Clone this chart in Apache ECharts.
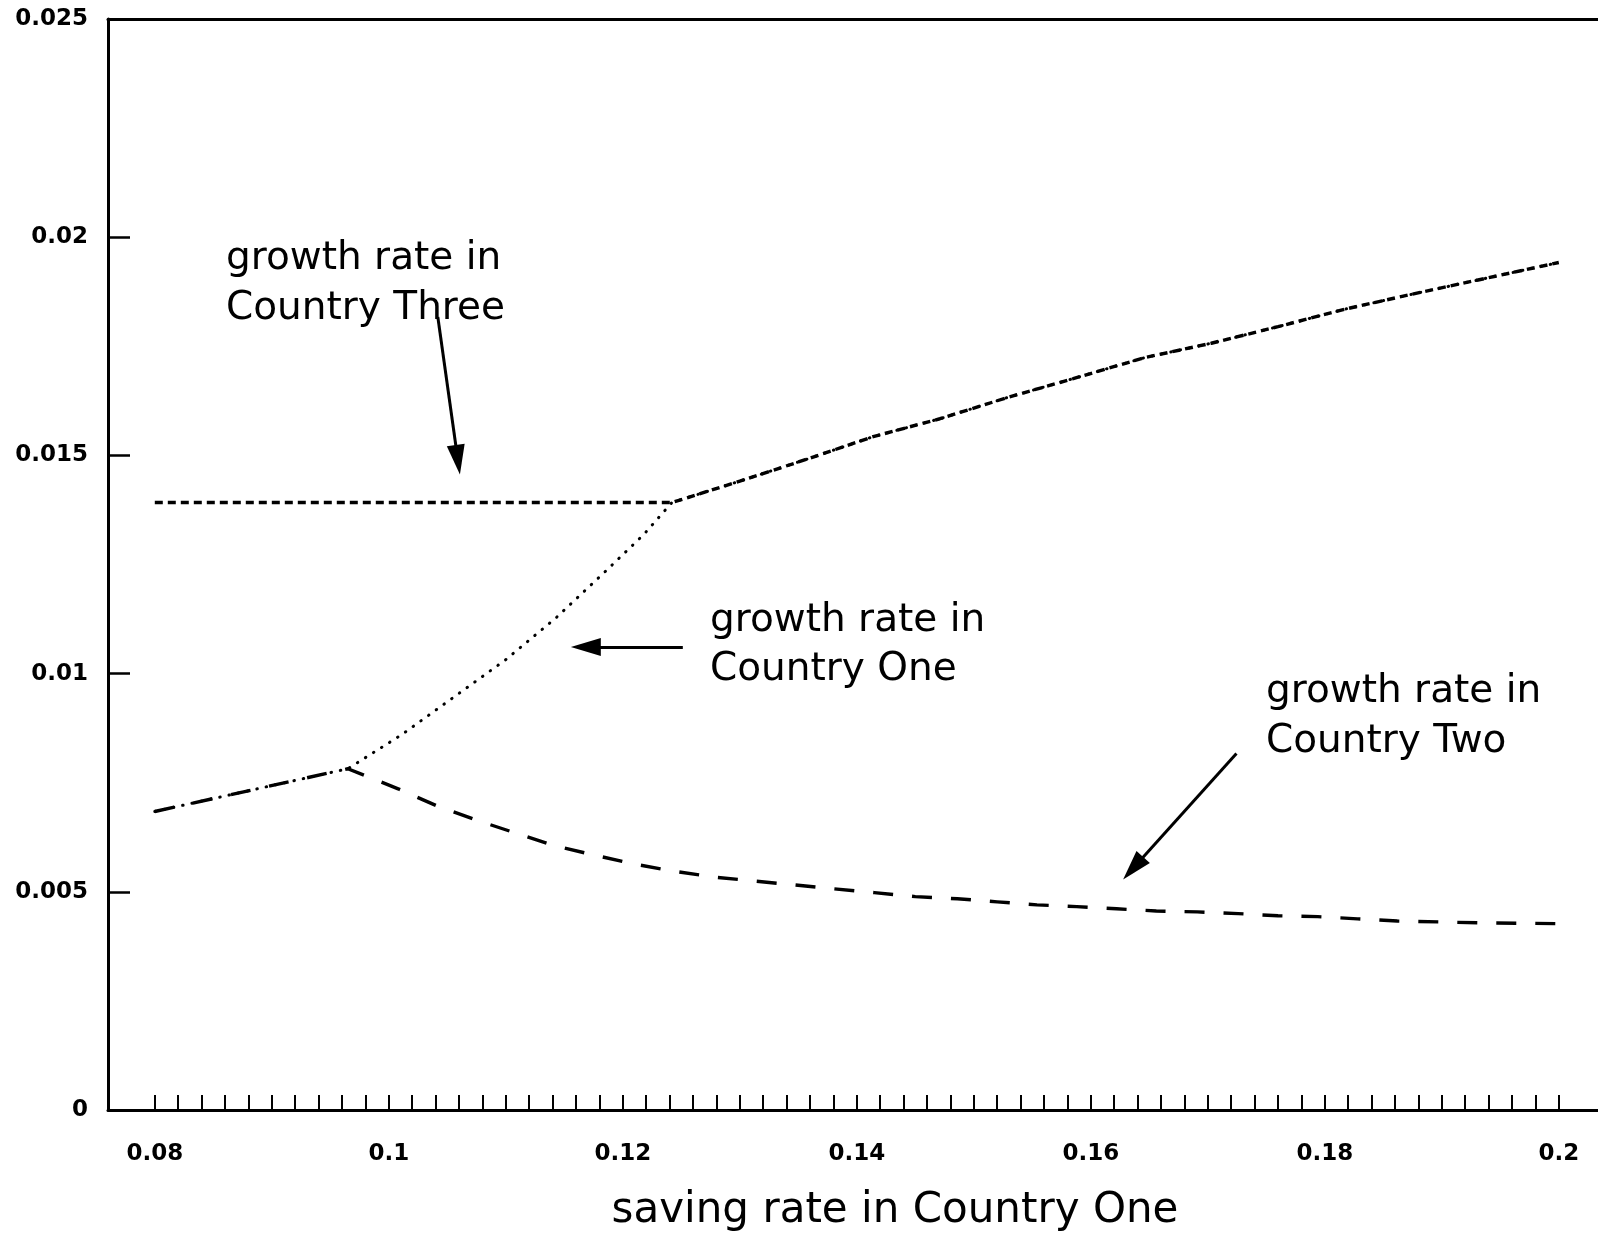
<!DOCTYPE html>
<html>
<head>
<meta charset="utf-8">
<script src="https://cdn.jsdelivr.net/npm/echarts@6/dist/echarts.min.js"></script>
<style>
  html, body { margin: 0; padding: 0; background: #fff; }
  #chart { width: 1598px; height: 1234px; }
</style>
</head>
<body>
<div id="chart"></div>
<script>
// ---- data ----
const savingOne = [0.08, 0.0965, 0.1011, 0.1056, 0.1100, 0.1143, 0.1185, 0.1218, 0.1242, 0.1300, 0.1357, 0.1414, 0.1471, 0.1528, 0.1585, 0.1646, 0.1703, 0.1760, 0.1817, 0.1874, 0.1931, 0.2];
const growthOne = [0.00684, 0.00782, 0.00860, 0.00947, 0.01032, 0.01128, 0.01234, 0.01319, 0.01392, 0.01441, 0.01491, 0.01543, 0.01584, 0.01632, 0.01676, 0.01724, 0.01757, 0.01795, 0.01835, 0.01869, 0.01902, 0.01942];

const savingTwo = [0.08, 0.0965, 0.1008, 0.1041, 0.1074, 0.1108, 0.1141, 0.1174, 0.1209, 0.1242, 0.1277, 0.1311, 0.1346, 0.1380, 0.1415, 0.1450, 0.1486, 0.1520, 0.1554, 0.1588, 0.1622, 0.1656, 0.1691, 0.1726, 0.1760, 0.1794, 0.1828, 0.1862, 0.1897, 0.1931, 0.2];
const growthTwo = [0.00684, 0.00782, 0.00736, 0.00697, 0.00665, 0.00635, 0.00606, 0.00585, 0.00564, 0.00548, 0.00534, 0.00525, 0.00516, 0.00507, 0.00498, 0.00489, 0.00484, 0.00477, 0.00470, 0.00466, 0.00461, 0.00456, 0.00454, 0.00450, 0.00445, 0.00443, 0.00438, 0.00433, 0.00431, 0.00429, 0.00427];

const savingThree = [0.08, 0.1242, 0.1300, 0.1357, 0.1414, 0.1471, 0.1528, 0.1585, 0.1646, 0.1703, 0.1760, 0.1817, 0.1874, 0.1931, 0.2];
const growthThree = [0.01392, 0.01392, 0.01441, 0.01491, 0.01543, 0.01584, 0.01632, 0.01676, 0.01724, 0.01757, 0.01795, 0.01835, 0.01869, 0.01902, 0.01942];

const xTickLabels = [0.08, 0.1, 0.12, 0.14, 0.16, 0.18, 0.2];
const yTickLabels = [0, 0.005, 0.01, 0.015, 0.02, 0.025];

// annotation arrows: [fromX, fromY, toX, toY] in data units
const arrowThree = [0.10419, 0.01817, 0.1059, 0.01490];
const arrowOne   = [0.12513, 0.01061, 0.11684, 0.01061];
const arrowTwo   = [0.17245, 0.00817, 0.16362, 0.00554];

// minor ticks every 0.002 from 0.08 to 0.2
const xMinorTicks = [];
for (let i = 0; i <= 60; i++) xMinorTicks.push(Math.round((0.08 + i * 0.002) * 1000) / 1000);

function pairs(xs, ys) { return xs.map((x, i) => [x, ys[i]]); }

const annoFont = '"DejaVu Sans", sans-serif';
function annoText(text, x, y, size) {
  return {
    type: 'text', x: x, y: y, silent: true,
    style: { text: text, fill: '#000', fontSize: size || 39, fontFamily: annoFont,
             align: 'left', verticalAlign: 'middle' }
  };
}

const chart = echarts.init(document.getElementById('chart'), null, { renderer: 'canvas' });
const option = {
  backgroundColor: '#fff',
  animation: false,
  grid: { left: 108, right: 0, top: 19, bottom: 124, containLabel: false },
  xAxis: [{
    type: 'value', min: 0.076, max: 0.20335,
    axisLine: { show: true, onZero: false, lineStyle: { color: '#000', width: 3 } },
    axisTick: { show: true, inside: true, length: 15, customValues: xMinorTicks,
                lineStyle: { color: '#000', width: 2 } },
    axisLabel: { show: true, customValues: xTickLabels, margin: 33, color: '#000',
                 fontSize: 23, fontWeight: 'bold', fontFamily: '"DejaVu Sans", sans-serif' },
    splitLine: { show: false }
  }, {
    type: 'value', position: 'top', min: 0.076, max: 0.20335,
    axisLine: { show: true, onZero: false, lineStyle: { color: '#000', width: 3 } },
    axisTick: { show: false }, axisLabel: { show: false }, splitLine: { show: false }
  }],
  yAxis: {
    type: 'value', min: 0, max: 0.025, interval: 0.005,
    axisLine: { show: true, onZero: false, lineStyle: { color: '#000', width: 3 } },
    axisTick: { show: true, inside: true, length: 22, lineStyle: { color: '#000', width: 2.5 } },
    axisLabel: { show: true, customValues: yTickLabels, margin: 20, color: '#000',
                 fontSize: 23, fontWeight: 'bold', fontFamily: '"DejaVu Sans", sans-serif' },
    splitLine: { show: false }
  },
  series: [
    {
      name: 'Country Three', type: 'line', data: pairs(savingThree, growthThree),
      showSymbol: false, symbol: 'none',
      lineStyle: { color: '#000', width: 3.4, type: [8, 5] }
    },
    {
      name: 'Country Two', type: 'line', data: pairs(savingTwo, growthTwo),
      showSymbol: false, symbol: 'none',
      lineStyle: { color: '#000', width: 3.4, type: [20, 19] }
    },
    {
      name: 'Country One', type: 'line', data: pairs(savingOne, growthOne),
      showSymbol: false, symbol: 'none',
      lineStyle: { color: '#000', width: 3, type: [0.5, 9], cap: 'round' }
    },
    {
      name: 'arrows', type: 'line', data: [], symbol: 'none',
      markLine: {
        silent: true, animation: false,
        symbol: ['none', 'triangle'], symbolSize: [18, 30],
        label: { show: false },
        lineStyle: { color: '#000', width: 3, type: 'solid' },
        itemStyle: { color: '#000' },
        data: [arrowThree, arrowOne, arrowTwo].map(a => [
          { coord: [a[0], a[1]] }, { coord: [a[2], a[3]] }
        ])
      }
    }
  ],
  graphic: [
    annoText('growth rate in', 226, 259),
    annoText('Country Three', 226, 309),
    annoText('growth rate in', 710, 621),
    annoText('Country One', 710, 670),
    annoText('growth rate in', 1266, 692),
    annoText('Country Two', 1266, 742),
    {
      type: 'text', x: 895, y: 1211, silent: true,
      style: { text: 'saving rate in Country One', fill: '#000', fontSize: 42,
               fontFamily: annoFont, align: 'center', verticalAlign: 'middle' }
    }
  ]
};
chart.setOption(option);
</script>
</body>
</html>
